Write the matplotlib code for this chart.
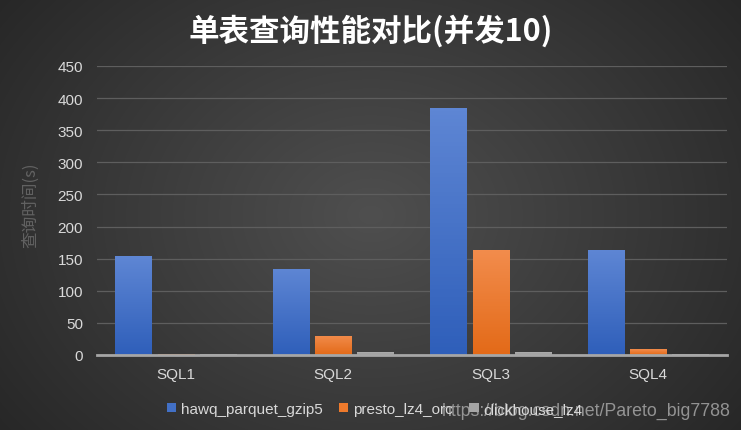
import numpy as np
import matplotlib
matplotlib.use("Agg")
import matplotlib.pyplot as plt
from matplotlib.patches import Patch
from matplotlib.colors import to_rgb

plt.rcParams['font.family'] = ['Liberation Sans', 'Noto Sans CJK SC', 'DejaVu Sans']

categories = ["SQL1", "SQL2", "SQL3", "SQL4"]
series_names = ["hawq_parquet_gzip5", "presto_lz4_orc", "clickhouse_lz4"]
hawq = [154, 134, 385, 164]
presto = [2, 30, 163, 9]
clickhouse = [1, 5, 5, 1]
yticks = [0, 50, 100, 150, 200, 250, 300, 350, 400, 450]
title = "单表查询性能对比(并发10)"
ylabel = "查询时间(s)"
watermark = "https://blog.csdn.net/Pareto_big7788"

W, H = 741, 431
fig = plt.figure(figsize=(W / 100, H / 100), dpi=100)

# radial gradient background
bg = fig.add_axes([0, 0, 1, 1], zorder=-10)
yy, xx = np.mgrid[0:H, 0:W]
r = np.sqrt(((xx - W * 0.5) / (W * 0.6)) ** 2 + ((yy - H * 0.5) / (H * 0.8)) ** 2)
val = 0.31 - 0.15 * np.clip(r, 0, 1.2)
img = np.dstack([val, val, val])
bg.imshow(img, aspect='auto', extent=[0, 1, 0, 1], origin='upper')
bg.set_axis_off()

ax = fig.add_axes([97 / W, 1 - 356 / H, 630 / W, 289 / H])
ax.patch.set_alpha(0)

x = np.arange(len(categories))
bw = 0.23
off = 0.268
colors = ["#4270c6", "#ee7a2c", "#a5a5a5"]
tops = ["#5e86d4", "#f28c4c", "#b4b4b4"]
bots = ["#2f5fba", "#e36a18", "#9a9a9a"]
ax.set_xlim(-0.5, len(categories) - 0.5)
ax.set_ylim(0, 450)
for i, vals in enumerate([hawq, presto, clickhouse]):
    bars = ax.bar(x + (i - 1) * off, vals, bw, color=colors[i], zorder=3, label=series_names[i])
    t = np.array(to_rgb(tops[i])); b = np.array(to_rgb(bots[i]))
    grad = np.linspace(0, 1, 64)[:, None]
    gimg = (t[None, None, :] * (1 - grad[..., None]) + b[None, None, :] * grad[..., None])
    for bar in bars:
        x0, y0 = bar.get_x(), bar.get_y()
        w_, h_ = bar.get_width(), bar.get_height()
        im = ax.imshow(gimg, extent=[x0, x0 + w_, y0, y0 + h_], origin='upper',
                       aspect='auto', zorder=3.5)
        im.set_clip_path(bar)
ax.set_xlim(-0.5, len(categories) - 0.5)
ax.set_ylim(0, 450)
ax.set_aspect('auto')
ax.set_yticks(yticks)
ax.set_xticks(x)
ax.set_xticklabels(categories)
ax.grid(axis='y', color='#5e5e5e', linewidth=0.9, zorder=0)
for s in ['top', 'right', 'left']:
    ax.spines[s].set_visible(False)
ax.spines['bottom'].set_color('#a6a6a6')
ax.spines['bottom'].set_linewidth(2)
ax.spines['bottom'].set_zorder(4)
ax.tick_params(axis='both', length=0, colors='#d9d9d9', labelsize=11)
ax.tick_params(axis='y', pad=10)
ax.tick_params(axis='x', pad=9)

fig.text(371 / W, 1 - 31 / H, title, color='white', fontsize=22, fontweight='bold',
         ha='center', va='center', family=['Noto Sans CJK SC', 'DejaVu Sans'])
fig.text(31 / W, 1 - 205 / H, ylabel, color='#626262', fontsize=12, rotation=90,
         ha='center', va='center', family=['Noto Sans CJK SC', 'DejaVu Sans'])

handles = [Patch(facecolor=c, edgecolor='none') for c in colors]
leg = fig.legend(handles, series_names, loc='center left', bbox_to_anchor=(153 / W, 1 - 410 / H),
                 ncol=3, frameon=False, fontsize=11, labelcolor='#d9d9d9',
                 handlelength=0.6, handleheight=0.6, handletextpad=0.3, columnspacing=1.1)

fig.text(731 / W, 1 - 411 / H, watermark, color='#bfbfbf', alpha=0.7, fontsize=12.8,
         ha='right', va='center')

fig.savefig("out.png", dpi=100)
